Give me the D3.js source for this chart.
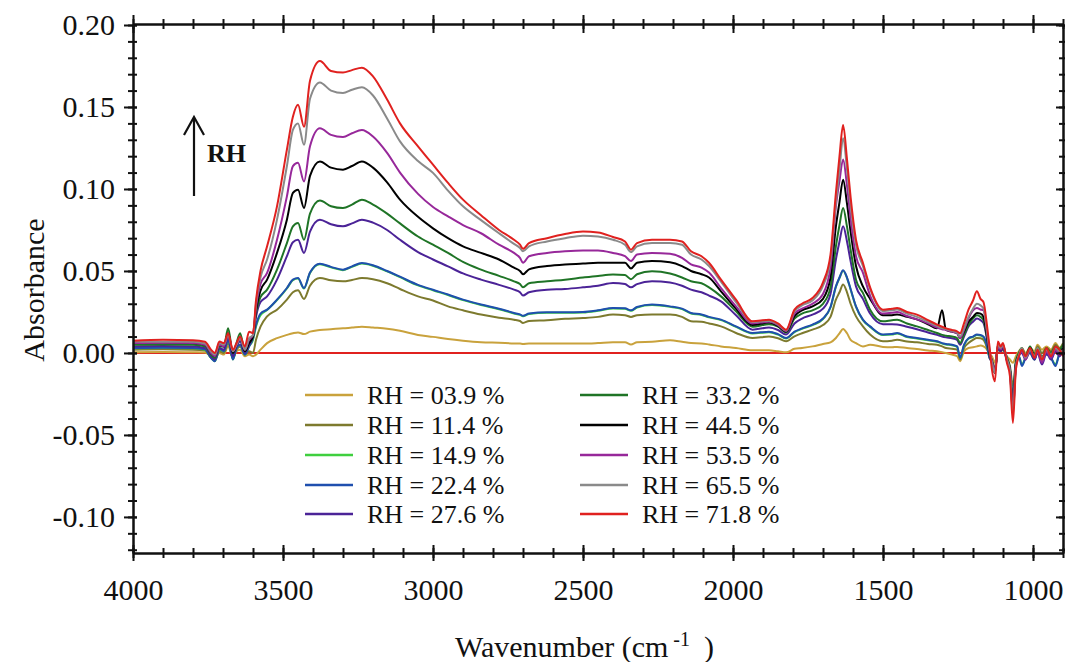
<!DOCTYPE html>
<html>
<head>
<meta charset="utf-8">
<script src="https://cdn.jsdelivr.net/npm/d3@7"></script>
<style>
  body { margin: 0; background: #fff; }
  svg { display: block; }
  svg text { font-family: 'Liberation Serif', 'DejaVu Serif', serif; fill: #111; }
</style>
</head>
<body>
<svg id="chart" width="1065" height="662"></svg>
<script>
// FTIR absorbance spectra at increasing relative humidity.
// Shared wavenumber grid (cm^-1), one absorbance array per humidity level.
const wavenumbers = [
  4000, 3900, 3800, 3760, 3740, 3727, 3712, 3697, 3683, 3667, 3655, 3643, 3627, 3613, 3600, 3590,
  3575, 3553, 3520, 3487, 3467, 3450, 3430, 3410, 3377, 3340, 3300, 3270, 3237, 3200,
  3153, 3110, 3050, 3000, 2950, 2900, 2840, 2780, 2730, 2710,
  2700, 2680, 2620, 2560, 2500, 2450, 2400, 2360, 2340, 2320, 2270, 2210, 2170, 2140, 2105, 2080,
  2040, 1990, 1935, 1880, 1850, 1823, 1795, 1770, 1735, 1700, 1675, 1657, 1645, 1633,
  1620, 1608, 1590, 1567, 1543, 1500, 1470, 1453, 1420, 1387, 1350, 1320, 1303, 1290, 1270, 1253,
  1243, 1230, 1215, 1200, 1187, 1175, 1165, 1153, 1145, 1137, 1127, 1117, 1108, 1100,
  1087, 1077, 1067, 1057, 1047, 1037, 1025, 1010, 995, 985, 970, 955, 940, 925, 912, 900
];

const rh039 = [
  0.0005, 0.0006, 0.0004, 0.0003, -0.002, -0.003, 0.000, -0.001, 0.004, -0.003, 0.001, 0.002, -0.002, -0.001, -0.002, -0.001,
  0.002, 0.006, 0.009, 0.011, 0.012, 0.0125, 0.0115, 0.013, 0.014, 0.0145, 0.015, 0.0155, 0.016, 0.0155,
  0.0148, 0.0135, 0.011, 0.0098, 0.0085, 0.0075, 0.0066, 0.0062, 0.0058, 0.0057,
  0.0055, 0.0057, 0.0057, 0.0057, 0.0057, 0.006, 0.0065, 0.0065, 0.0052, 0.0065, 0.0068, 0.0077, 0.0068, 0.006, 0.0058, 0.0052,
  0.004, 0.003, 0.0016, 0.0016, 0.001, 0.0004, 0.0025, 0.003, 0.004, 0.0055, 0.0065, 0.0091, 0.012, 0.0146,
  0.012, 0.008, 0.006, 0.004, 0.005, 0.0037, 0.0035, 0.0037, 0.003, 0.0024, 0.0015, 0.001, 0.0005, 0.000, -0.001, -0.002,
  -0.005, 0.001, 0.003, 0.0035, 0.004, 0.0045, 0.004, 0.002, -0.001, -0.002, -0.006, 0.002, 0.001, 0.002,
  -0.002, -0.004, -0.006, -0.002, 0.001, 0.003, 0.000, 0.003, 0.001, 0.005, 0.002, 0.004, 0.002, 0.006, 0.003, 0.005
];

const rh114 = [
  0.002, 0.0022, 0.002, 0.0015, -0.003, -0.004, 0.001, 0.000, 0.006, -0.003, 0.002, 0.004, -0.001, 0.001, 0.000, 0.008,
  0.016, 0.0223, 0.0264, 0.0325, 0.037, 0.0382, 0.0329, 0.041, 0.0457, 0.0443, 0.0437, 0.0445, 0.0457, 0.045,
  0.0425, 0.039, 0.0345, 0.032, 0.0284, 0.026, 0.0234, 0.0215, 0.0203, 0.0195,
  0.0183, 0.0195, 0.020, 0.0208, 0.0213, 0.022, 0.0234, 0.023, 0.022, 0.023, 0.0234, 0.0234, 0.022, 0.0193, 0.019, 0.018,
  0.0162, 0.0122, 0.0091, 0.010, 0.009, 0.0071, 0.0101, 0.012, 0.0142, 0.017, 0.022, 0.0325, 0.037, 0.0417,
  0.037, 0.030, 0.0223, 0.0162, 0.0112, 0.0071, 0.0075, 0.008, 0.007, 0.0065, 0.0055, 0.005, 0.004, 0.003, 0.0025, 0.002,
  -0.004, 0.003, 0.006, 0.008, 0.0091, 0.009, 0.008, 0.003, -0.002, -0.004, -0.010, 0.003, 0.001, 0.002,
  -0.003, -0.008, -0.020, -0.005, 0.000, 0.002, -0.002, 0.003, -0.002, 0.004, 0.000, 0.003, 0.001, 0.005, 0.003, 0.006
];

const rh149 = [
  0.0028, 0.003, 0.0028, 0.002, -0.003, -0.005, 0.002, 0.001, 0.008, -0.004, 0.003, 0.005, -0.001, 0.004, 0.008, 0.016,
  0.023, 0.0262, 0.0322, 0.0393, 0.0444, 0.0454, 0.0393, 0.0487, 0.0541, 0.0522, 0.0505, 0.0525, 0.0546, 0.0532,
  0.0497, 0.0462, 0.0412, 0.0382, 0.0353, 0.0322, 0.0292, 0.0267, 0.0241, 0.0232,
  0.0224, 0.0237, 0.0245, 0.0245, 0.0247, 0.0257, 0.0271, 0.0269, 0.0257, 0.0277, 0.0292, 0.0281, 0.0267, 0.0241, 0.0232, 0.0217,
  0.020, 0.0159, 0.0119, 0.0127, 0.0112, 0.0088, 0.0127, 0.0147, 0.017, 0.0207, 0.0277, 0.0403, 0.0457, 0.0501,
  0.0457, 0.0387, 0.0281, 0.020, 0.0159, 0.0109, 0.0112, 0.0119, 0.0097, 0.0088, 0.0077, 0.0068, 0.0057, 0.0052, 0.0047, 0.0037,
  -0.003, 0.0047, 0.0087, 0.0097, 0.0109, 0.0107, 0.0097, 0.0037, -0.003, -0.005, -0.012, 0.0037, 0.0017, 0.0027,
  -0.004, -0.010, -0.027, -0.006, -0.002, -0.007, -0.003, 0.000, -0.004, 0.001, -0.002, -0.001, -0.003, -0.007, -0.001, 0.000
];

const rh224 = [
  0.003, 0.0032, 0.003, 0.0022, -0.003, -0.005, 0.0025, 0.001, 0.008, -0.004, 0.003, 0.005, -0.001, 0.004, 0.009, 0.017,
  0.024, 0.0264, 0.0325, 0.0396, 0.0447, 0.0457, 0.0396, 0.049, 0.0544, 0.0525, 0.0508, 0.0528, 0.0549, 0.0535,
  0.050, 0.0465, 0.0415, 0.0385, 0.0356, 0.0325, 0.0295, 0.027, 0.0244, 0.0235,
  0.0227, 0.024, 0.0248, 0.0248, 0.025, 0.026, 0.0274, 0.0272, 0.026, 0.028, 0.0295, 0.0284, 0.027, 0.0244, 0.0235, 0.022,
  0.0203, 0.0162, 0.0122, 0.013, 0.0115, 0.0091, 0.013, 0.015, 0.0173, 0.021, 0.028, 0.0406, 0.046, 0.0504,
  0.046, 0.039, 0.0284, 0.0203, 0.0162, 0.0112, 0.0115, 0.0122, 0.010, 0.0091, 0.008, 0.0071, 0.006, 0.0055, 0.005, 0.004,
  -0.003, 0.005, 0.009, 0.010, 0.0112, 0.011, 0.010, 0.004, -0.003, -0.005, -0.012, 0.004, 0.002, 0.003,
  -0.004, -0.010, -0.028, -0.006, -0.002, -0.008, -0.003, 0.000, -0.004, 0.001, -0.002, -0.001, -0.003, -0.008, -0.001, 0.000
];

const rh276 = [
  0.004, 0.0042, 0.004, 0.003, -0.002, -0.004, 0.003, 0.002, 0.010, -0.002, 0.004, 0.007, 0.000, 0.005, 0.010, 0.022,
  0.031, 0.0345, 0.0447, 0.059, 0.0675, 0.069, 0.061, 0.074, 0.0813, 0.0785, 0.0772, 0.079, 0.0813, 0.0795,
  0.075, 0.069, 0.0615, 0.057, 0.0528, 0.0485, 0.0447, 0.0415, 0.0386, 0.037,
  0.035, 0.037, 0.0386, 0.039, 0.040, 0.041, 0.0427, 0.042, 0.040, 0.042, 0.0437, 0.043, 0.041, 0.0386, 0.037, 0.035,
  0.0315, 0.023, 0.0142, 0.0155, 0.014, 0.0112, 0.018, 0.021, 0.0234, 0.027, 0.036, 0.057, 0.068, 0.0772,
  0.068, 0.056, 0.0406, 0.033, 0.024, 0.0175, 0.0175, 0.0173, 0.016, 0.0145, 0.0125, 0.011, 0.010, 0.0095, 0.009, 0.008,
  0.005, 0.010, 0.0162, 0.019, 0.021, 0.020, 0.0183, 0.008, -0.002, -0.006, -0.012, 0.003, 0.001, 0.003,
  -0.005, -0.010, -0.030, -0.007, -0.001, 0.000, -0.004, 0.001, -0.004, 0.000, -0.007, 0.000, -0.004, 0.001, -0.002, 0.001
];

const rh332 = [
  0.005, 0.0052, 0.005, 0.004, -0.001, -0.003, 0.004, 0.004, 0.015, 0.000, 0.006, 0.012, 0.001, 0.006, 0.010, 0.024,
  0.034, 0.0386, 0.0508, 0.067, 0.0772, 0.0793, 0.069, 0.085, 0.093, 0.0895, 0.0884, 0.0905, 0.0935, 0.0905,
  0.085, 0.079, 0.071, 0.066, 0.061, 0.0555, 0.0508, 0.047, 0.0437, 0.042,
  0.040, 0.0425, 0.0437, 0.0447, 0.046, 0.047, 0.0478, 0.0475, 0.045, 0.048, 0.0498, 0.0484, 0.046, 0.0437, 0.0425, 0.040,
  0.0345, 0.0254, 0.016, 0.0175, 0.016, 0.0125, 0.021, 0.024, 0.026, 0.030, 0.040, 0.065, 0.078, 0.0884,
  0.077, 0.063, 0.0447, 0.0366, 0.0264, 0.0193, 0.020, 0.0203, 0.018, 0.0162, 0.014, 0.0122, 0.011, 0.0105, 0.010, 0.0091,
  0.006, 0.011, 0.017, 0.021, 0.023, 0.022, 0.020, 0.009, -0.001, -0.005, -0.011, 0.004, 0.003, 0.004,
  -0.003, -0.009, -0.032, -0.006, 0.000, 0.003, -0.002, 0.004, -0.001, 0.003, -0.003, 0.003, 0.000, 0.004, 0.002, 0.005
];

const rh445 = [
  0.006, 0.0063, 0.006, 0.005, 0.000, -0.002, 0.005, 0.004, 0.012, 0.000, 0.005, 0.009, 0.001, 0.006, 0.010, 0.026,
  0.038, 0.0447, 0.061, 0.0813, 0.0976, 0.0996, 0.0884, 0.108, 0.1168, 0.113, 0.1118, 0.114, 0.1168, 0.113,
  0.104, 0.0935, 0.083, 0.076, 0.070, 0.065, 0.061, 0.057, 0.052, 0.050,
  0.048, 0.051, 0.053, 0.054, 0.0545, 0.055, 0.055, 0.055, 0.0515, 0.055, 0.056, 0.0553, 0.053, 0.050, 0.048, 0.046,
  0.0376, 0.027, 0.017, 0.0185, 0.0165, 0.013, 0.0225, 0.026, 0.0284, 0.033, 0.046, 0.0772, 0.092, 0.1057,
  0.091, 0.074, 0.053, 0.0406, 0.033, 0.023, 0.023, 0.0235, 0.022, 0.0205, 0.0175, 0.015, 0.026, 0.014, 0.013, 0.012,
  0.009, 0.013, 0.019, 0.022, 0.0244, 0.024, 0.022, 0.010, 0.000, -0.005, -0.012, 0.005, 0.002, 0.004,
  -0.004, -0.010, -0.035, -0.007, -0.001, 0.002, -0.003, 0.003, -0.002, 0.002, -0.004, 0.002, -0.002, 0.003, 0.000, 0.003
];

const rh535 = [
  0.006, 0.0062, 0.006, 0.005, 0.000, -0.002, 0.005, 0.004, 0.011, 0.001, 0.005, 0.009, 0.002, 0.008, 0.011, 0.028,
  0.042, 0.0488, 0.069, 0.0955, 0.114, 0.116, 0.1046, 0.126, 0.137, 0.133, 0.1317, 0.134, 0.136, 0.132,
  0.122, 0.110, 0.097, 0.089, 0.0833, 0.078, 0.073, 0.066, 0.061, 0.058,
  0.055, 0.059, 0.061, 0.062, 0.0625, 0.0625, 0.061, 0.059, 0.056, 0.060, 0.061, 0.0605, 0.058, 0.054, 0.052, 0.049,
  0.0396, 0.0284, 0.018, 0.019, 0.017, 0.0133, 0.024, 0.027, 0.030, 0.036, 0.052, 0.0894, 0.105, 0.118,
  0.102, 0.082, 0.059, 0.049, 0.035, 0.024, 0.0245, 0.025, 0.0225, 0.0205, 0.018, 0.0155, 0.0145, 0.014, 0.013, 0.012,
  0.009, 0.014, 0.021, 0.026, 0.0274, 0.0265, 0.026, 0.012, 0.001, -0.005, -0.011, 0.004, 0.002, 0.004,
  -0.004, -0.010, -0.036, -0.008, -0.002, 0.001, -0.004, 0.002, -0.003, 0.001, -0.006, 0.001, -0.003, 0.002, -0.001, 0.002
];

const rh655 = [
  0.007, 0.0068, 0.0068, 0.0058, 0.001, -0.001, 0.006, 0.005, 0.011, 0.001, 0.005, 0.009, 0.002, 0.009, 0.011, 0.030,
  0.046, 0.057, 0.0813, 0.114, 0.136, 0.140, 0.127, 0.155, 0.165, 0.160, 0.1585, 0.1605, 0.162, 0.157,
  0.143, 0.129, 0.117, 0.1098, 0.099, 0.0894, 0.081, 0.073, 0.0665, 0.064,
  0.062, 0.065, 0.068, 0.070, 0.0715, 0.071, 0.069, 0.066, 0.0615, 0.065, 0.067, 0.067, 0.066, 0.060, 0.057, 0.053,
  0.0435, 0.031, 0.019, 0.0195, 0.0175, 0.0138, 0.0255, 0.029, 0.032, 0.041, 0.057, 0.092, 0.112, 0.131,
  0.112, 0.090, 0.066, 0.053, 0.039, 0.0255, 0.026, 0.0265, 0.024, 0.022, 0.019, 0.0165, 0.015, 0.0145, 0.0135, 0.0125,
  0.010, 0.015, 0.022, 0.027, 0.030, 0.029, 0.027, 0.013, 0.002, -0.006, -0.012, 0.005, 0.003, 0.005,
  -0.004, -0.011, -0.038, -0.008, -0.001, 0.003, -0.003, 0.002, -0.002, 0.003, -0.003, 0.002, -0.001, 0.003, 0.001, 0.001
];

const rh718 = [
  0.0075, 0.008, 0.0078, 0.0068, 0.002, 0.000, 0.007, 0.006, 0.012, 0.002, 0.006, 0.010, 0.004, 0.013, 0.012, 0.032,
  0.050, 0.065, 0.0894, 0.124, 0.144, 0.1513, 0.138, 0.166, 0.178, 0.172, 0.171, 0.1725, 0.174, 0.1687,
  0.1545, 0.140, 0.126, 0.1148, 0.1037, 0.0935, 0.084, 0.075, 0.069, 0.066,
  0.0635, 0.067, 0.070, 0.0725, 0.074, 0.0735, 0.0707, 0.068, 0.063, 0.067, 0.069, 0.069, 0.068, 0.062, 0.059, 0.055,
  0.0447, 0.0325, 0.0193, 0.0203, 0.018, 0.0142, 0.0264, 0.030, 0.0335, 0.043, 0.060, 0.0976, 0.120, 0.139,
  0.118, 0.095, 0.069, 0.055, 0.040, 0.0264, 0.027, 0.0274, 0.025, 0.0234, 0.020, 0.0173, 0.016, 0.015, 0.014, 0.0132,
  0.012, 0.018, 0.0264, 0.032, 0.0376, 0.033, 0.031, 0.0162, 0.004, -0.010, -0.0173, 0.007, 0.004, 0.006,
  -0.006, -0.014, -0.0427, -0.010, -0.002, 0.002, -0.002, 0.003, -0.003, 0.002, -0.004, 0.003, -0.002, 0.004, 0.002, -0.002
];

const seriesValues = [rh039, rh114, rh149, rh224, rh276, rh332, rh445, rh535, rh655, rh718];
const seriesLabels = [
  "RH = 03.9 %", "RH = 11.4 %", "RH = 14.9 %", "RH = 22.4 %", "RH = 27.6 %",
  "RH = 33.2 %", "RH = 44.5 %", "RH = 53.5 %", "RH = 65.5 %", "RH = 71.8 %"
];
const seriesColors = [
  "#c9a23c", "#7d7a2e", "#3fcf3f", "#1f4fae", "#4b2397",
  "#1f7426", "#000000", "#97289a", "#8a8a8a", "#e0211f"
];

const yMajorTicks = [-0.10, -0.05, 0.00, 0.05, 0.10, 0.15, 0.20];
const yMinorTicks = d3.range(-12, 21).map(d => d / 100);
const xMajorTicks = [4000, 3500, 3000, 2500, 2000, 1500, 1000];
const xMinorTicks = d3.range(4000, 899, -100);

// ---- layout ----
const svg = d3.select("#chart");
const plot = { left: 133, right: 1063, top: 25, bottom: 553 };
const FONT = "'Liberation Serif', 'DejaVu Serif', serif";

const x = d3.scaleLinear().domain([4000, 900]).range([plot.left, plot.right]);
const y = d3.scaleLinear().domain([-0.122, 0.20]).range([plot.bottom, plot.top]);

// zero reference line
svg.append("line")
  .attr("x1", x(4000)).attr("x2", x(900))
  .attr("y1", y(0)).attr("y2", y(0))
  .attr("stroke", "#e0211f").attr("stroke-width", 2);

// spectra (pixel x increases along the grid, so monotone smoothing applies)
const line = d3.line()
  .x((d, i) => x(wavenumbers[i]))
  .y(d => y(d))
  .curve(d3.curveMonotoneX);

svg.append("g").selectAll("path")
  .data(seriesValues)
  .join("path")
  .attr("d", d => line(d))
  .attr("fill", "none")
  .attr("stroke", (d, i) => seriesColors[i])
  .attr("stroke-width", 2)
  .attr("stroke-linejoin", "round");

// ---- axes ----
function styleAxis(g) {
  g.attr("font-family", FONT);
  g.select(".domain").attr("stroke", "#111").attr("stroke-width", 2);
  g.selectAll(".tick line").attr("stroke", "#111").attr("stroke-width", 2);
  g.selectAll(".tick text").attr("fill", "#111").attr("font-size", 30)
    .style("font-family", FONT);
}

// left
const gLeftMinor = svg.append("g").attr("transform", `translate(${plot.left},0)`)
  .call(d3.axisLeft(y).tickValues(yMinorTicks).tickSizeOuter(0).tickFormat(""));
styleAxis(gLeftMinor);
gLeftMinor.selectAll(".tick line").attr("x1", 4).attr("x2", -5);
const gLeft = svg.append("g").attr("transform", `translate(${plot.left},0)`)
  .call(d3.axisLeft(y).tickValues(yMajorTicks).tickSize(9).tickSizeOuter(0).tickPadding(9)
    .tickFormat(d => d.toFixed(2)));
styleAxis(gLeft);
gLeft.selectAll(".tick line").attr("x1", 4).attr("x2", -9);

// bottom
const gBottomMinor = svg.append("g").attr("transform", `translate(0,${plot.bottom})`)
  .call(d3.axisBottom(x).tickValues(xMinorTicks).tickSizeOuter(0).tickFormat(""));
styleAxis(gBottomMinor);
gBottomMinor.selectAll(".tick line").attr("y1", -5).attr("y2", 5);
const gBottom = svg.append("g").attr("transform", `translate(0,${plot.bottom})`)
  .call(d3.axisBottom(x).tickValues(xMajorTicks).tickSize(8).tickSizeOuter(0).tickPadding(18)
    .tickFormat(d3.format("d")));
styleAxis(gBottom);
gBottom.selectAll(".tick line").attr("y1", -8).attr("y2", 8);

// top (mirror, no labels)
const gTopMinor = svg.append("g").attr("transform", `translate(0,${plot.top - 1})`)
  .call(d3.axisTop(x).tickValues(xMinorTicks).tickSizeOuter(0).tickFormat(""));
styleAxis(gTopMinor);
gTopMinor.selectAll(".tick line").attr("y1", -5).attr("y2", 5);
const gTop = svg.append("g").attr("transform", `translate(0,${plot.top - 1})`)
  .call(d3.axisTop(x).tickValues(xMajorTicks).tickSizeOuter(0).tickFormat(""));
styleAxis(gTop);
gTop.selectAll(".tick line").attr("y1", -9).attr("y2", 9);

// right (mirror, no labels)
const gRightMinor = svg.append("g").attr("transform", `translate(${plot.right},0)`)
  .call(d3.axisRight(y).tickValues(yMinorTicks).tickSizeOuter(0).tickFormat(""));
styleAxis(gRightMinor);
gRightMinor.selectAll(".tick line").attr("x1", -4).attr("x2", 4);
const gRight = svg.append("g").attr("transform", `translate(${plot.right},0)`)
  .call(d3.axisRight(y).tickValues(yMajorTicks).tickSizeOuter(0).tickFormat(""));
styleAxis(gRight);
gRight.selectAll(".tick line").attr("x1", -7).attr("x2", 7);

// axis titles
svg.append("text")
  .attr("transform", `translate(44,290) rotate(-90)`)
  .attr("text-anchor", "middle")
  .attr("font-size", 30)
  .style("font-family", FONT)
  .text("Absorbance");

const xTitle = svg.append("text")
  .attr("x", 455).attr("y", 657)
  .attr("font-size", 30)
  .style("font-family", FONT);
xTitle.append("tspan").text("Wavenumber (cm");
xTitle.append("tspan").attr("dx", 5).attr("dy", -11).attr("font-size", 20).text("-1");
xTitle.append("tspan").attr("dx", 14).attr("dy", 11).text(")");

// humidity arrow
svg.append("line")
  .attr("x1", 194).attr("x2", 194).attr("y1", 196).attr("y2", 118)
  .attr("stroke", "#111").attr("stroke-width", 2.2);
svg.append("path")
  .attr("d", "M184,135 L194,117 L204,135")
  .attr("fill", "none").attr("stroke", "#111").attr("stroke-width", 2.2);
svg.append("text")
  .attr("x", 207).attr("y", 162)
  .attr("font-size", 26).attr("font-weight", "bold")
  .style("font-family", FONT)
  .text("RH");

// legend
const legendCols = [{ lx: 305, tx: 367 }, { lx: 580, tx: 642 }];
const legendRowY = [395, 425, 455, 485, 514];
const legend = svg.append("g");
seriesLabels.forEach((label, i) => {
  const col = legendCols[Math.floor(i / 5)];
  const ry = legendRowY[i % 5];
  legend.append("line")
    .attr("x1", col.lx).attr("x2", col.lx + 48)
    .attr("y1", ry).attr("y2", ry)
    .attr("stroke", seriesColors[i]).attr("stroke-width", 2.5);
  legend.append("text")
    .attr("x", col.tx).attr("y", ry + 8.5)
    .attr("font-size", 26)
    .style("font-family", FONT)
    .text(label);
});
</script>
</body>
</html>
